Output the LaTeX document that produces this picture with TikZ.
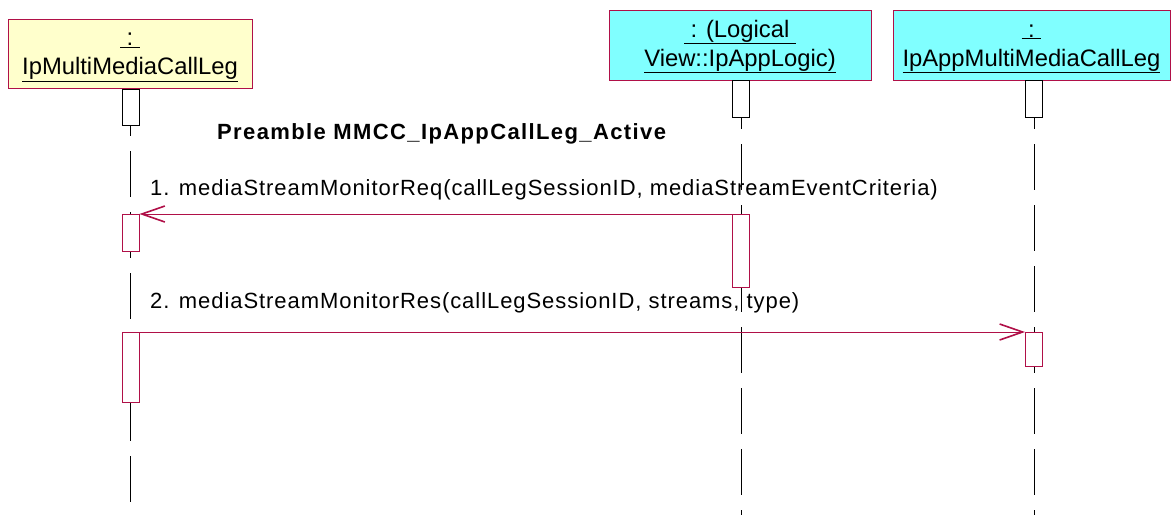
\documentclass[tikz,border=0pt]{standalone}
\usepackage{fontspec}
\setmainfont{Liberation Sans}
\usetikzlibrary{arrows.meta,positioning,backgrounds}

\definecolor{umlred}{RGB}{176,16,72}
\definecolor{objyellow}{RGB}{255,255,204}
\definecolor{objcyan}{RGB}{128,255,255}
\newcommand{\headstrut}{\rule{0pt}{20pt}}

\begin{document}
\begin{tikzpicture}[
  x=1pt, y=-1pt,
  objbox/.style={draw=umlred, line width=1pt, align=center, inner sep=0pt,
                 font=\fontsize{23.8}{29}\selectfont},
  actbar/.style={draw, fill=white, line width=0.9pt, minimum width=17pt,
                 inner sep=0pt, anchor=north},
  redbar/.style={actbar, draw=umlred},
  lifeline/.style={line width=1pt, dash pattern=on 46pt off 15pt, dash phase=58pt},
  msg/.style={umlred, line width=0.9pt,
              -{Straight Barb[length=23pt, width=16pt, line width=1.6pt]}},
  msglabel/.style={anchor=base west, inner sep=0pt,
                   font=\fontsize{22}{26}\selectfont\addfontfeature{LetterSpace=4.3}},
  >=Stealth
]
\useasboundingbox (0,0) rectangle (1171,515);

%% --- objects ---
\node[objbox, fill=objyellow, minimum width=244pt, minimum height=69pt] (leg)
  at (130,53.5) {\headstrut\underline{\ :\ }\\\underline{IpMultiMediaCallLeg}};
\node[objbox, fill=objcyan, minimum width=262pt, minimum height=70pt] (logic)
  at (740,45) {\headstrut\underline{\ : (Logical\ }\\\underline{View::IpAppLogic)}};
\node[objbox, fill=objcyan, minimum width=277pt, minimum height=70pt] (app)
  at (1031.5,45) {\headstrut\underline{\ :\ }\\\underline{IpAppMultiMediaCallLeg}};

%% --- activations ---
\node[actbar, minimum height=36pt] (legA) at (130.5,89) {};
\node[redbar, minimum height=37pt] (legB) at (130.5,214) {};
\node[redbar, minimum height=70pt] (legC) at (130.5,332) {};
\node[actbar, minimum height=37pt] (logicA) at (741,80) {};
\node[redbar, minimum height=73pt] (logicB) at (741,214) {};
\node[actbar, minimum height=37pt] (appA) at (1034,80) {};
\node[redbar, minimum height=34pt] (appB) at (1034,332) {};

%% --- lifelines ---
\coordinate (legEnd) at (130.5,515);
\coordinate (logicEnd) at (741,515);
\coordinate (appEnd) at (1034,515);
\begin{scope}[on background layer]
  \draw[lifeline, dash phase=60pt] (legA.north) -- (legEnd);
  \draw[lifeline] (logicA.north) -- (logicEnd);
  \draw[lifeline] (appA.north) -- (appEnd);
\end{scope}

%% --- messages ---
\node[msglabel, font=\fontsize{22}{26}\selectfont\bfseries\addfontfeature{LetterSpace=6.3}]
  (pre) at (217,139) {Preamble MMCC\_IpAppCallLeg\_Active};
\node[msglabel] (m1) at (150,195)
  {1. mediaStreamMonitorReq(callLegSessionID, mediaStreamEventCriteria)};
\draw[msg] (logicB.north west) -- (legB.north east);
\node[msglabel] (m2) at (150,308)
  {2. mediaStreamMonitorRes(callLegSessionID, streams, type)};
\draw[msg] (legC.north east) -- (appB.north west);
\end{tikzpicture}
\end{document}
